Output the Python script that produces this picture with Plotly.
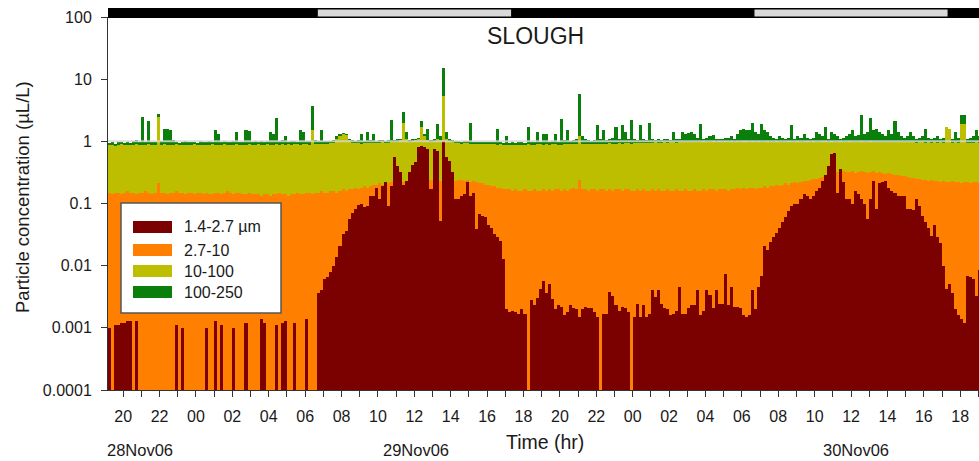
import math
import pandas as pd
import plotly.graph_objects as go

# ---------------- data (10-minute bins, 28 Nov 2006 19:10 -> 30 Nov 2006 19:10) ----------------
bin_start = "2006-11-28 19:15"   # centre of first 10-min bin
n_bins = 288

# top of each stacked band (cumulative concentration, uL/L)
fine_1p4_2p7 = [  # 1.4-2.7 um (0 = no particles detected)
    0.001,0,0.0011,0.0011,0.0012,0.0012,0.0013,0.0013,0,0.0013,0,0,0,0,0,0,
    0,0,0,0,0,0,0.0011,0,0.001,0,0,0,0,0,0,0,
    0.001,0,0,0.0013,0,0.0011,0,0,0,0.001,0,0,0,0.0012,0,0,
    0,0,0.0014,0.0012,0,0,0,0.0011,0,0.0012,0.0013,0,0,0.0012,0,0,
    0,0.0014,0,0,0,0.0037,0.004,0.006,0.0066,0.0078,0.0098,0.014,0.021,0.032,0.036,0.056,
    0.07,0.081,0.095,0.1,0.087,0.09,0.13,0.13,0.18,0.12,0.19,0.22,0.09,0.19,0.57,0.4,
    0.32,0.2,0.23,0.32,0.42,0.46,0.8,0.83,0.82,0.75,0.17,0.75,0.7,0.052,1.0,0.57,
    0.48,0.32,0.12,0.12,0.13,0.14,0.22,0.13,0.15,0.039,0.067,0.064,0.06,0.045,0.04,0.032,
    0.029,0.025,0.013,0.002,0.0018,0.0019,0.0018,0.0017,0.002,0.0017,0,0.0028,0.0023,0.003,0.0042,0.0057,
    0.0037,0.005,0.0029,0.002,0.0023,0.0022,0.0016,0.0018,0.0023,0.0021,0.002,0.0015,0.002,0.0022,0.0021,0.0021,
    0.0018,0.0015,0,0.0017,0.0017,0.0038,0.0033,0.0023,0.0019,0.0022,0.0021,0.0018,0,0.0015,0.0024,0.0015,
    0.0023,0.0015,0.0017,0.004,0.0031,0.0041,0.0024,0.0021,0.002,0.0016,0.0017,0.0019,0.0045,0.0017,0.0017,0.0021,
    0.0023,0.0023,0.0041,0.0016,0.0019,0.004,0.0034,0.0021,0.0041,0.0024,0.0024,0.0073,0.0023,0.0045,0.0022,0.0022,
    0.0021,0.0016,0.0015,0.0016,0.004,0.002,0.0045,0.0068,0.021,0.018,0.024,0.029,0.034,0.04,0.05,0.06,
    0.077,0.09,0.098,0.1,0.12,0.14,0.13,0.12,0.13,0.16,0.18,0.23,0.29,0.4,0.62,0.65,
    0.15,0.36,0.22,0.12,0.12,0.1,0.16,0.14,0.12,0.1,0.056,0.12,0.23,0.081,0.21,0.22,
    0.23,0.18,0.16,0.15,0.13,0.13,0.13,0.081,0.081,0.08,0.12,0.09,0.064,0.05,0.04,0.03,
    0.045,0.029,0.023,0.0098,0.0042,0.005,0.0037,0.002,0.0016,0.0014,0.0012,0.0068,0.0066,0.006,0.0033,0.0085,
]
cum_2p7_10 = [  # top of 2.7-10 band
    0.15,0.14,0.15,0.15,0.14,0.15,0.16,0.15,0.15,0.14,0.15,0.15,0.16,0.15,0.14,0.15,
    0.21,0.15,0.15,0.14,0.15,0.15,0.16,0.15,0.15,0.14,0.15,0.15,0.14,0.15,0.15,0.14,
    0.15,0.14,0.14,0.15,0.15,0.14,0.15,0.16,0.15,0.14,0.15,0.15,0.14,0.14,0.15,0.14,
    0.14,0.14,0.13,0.14,0.14,0.13,0.14,0.14,0.15,0.14,0.14,0.13,0.14,0.14,0.15,0.14,
    0.14,0.15,0.15,0.14,0.15,0.15,0.16,0.15,0.15,0.16,0.16,0.15,0.16,0.17,0.16,0.17,
    0.17,0.18,0.17,0.18,0.19,0.18,0.19,0.2,0.2,0.21,0.2,0.22,0.21,0.22,0.23,0.22,
    0.23,0.22,0.23,0.24,0.23,0.24,0.24,0.25,0.24,0.25,0.24,0.25,0.24,0.23,0.24,0.25,
    0.24,0.25,0.23,0.24,0.24,0.23,0.24,0.22,0.23,0.22,0.21,0.21,0.2,0.2,0.19,0.19,
    0.18,0.18,0.17,0.17,0.17,0.16,0.17,0.16,0.16,0.17,0.16,0.16,0.17,0.16,0.16,0.17,
    0.16,0.17,0.16,0.17,0.17,0.16,0.17,0.16,0.17,0.18,0.17,0.24,0.17,0.17,0.16,0.17,
    0.17,0.16,0.17,0.17,0.16,0.17,0.16,0.17,0.17,0.16,0.17,0.17,0.16,0.16,0.17,0.16,
    0.17,0.16,0.16,0.17,0.16,0.17,0.16,0.16,0.17,0.16,0.16,0.17,0.16,0.16,0.17,0.16,
    0.16,0.17,0.16,0.16,0.17,0.16,0.17,0.17,0.16,0.17,0.17,0.17,0.16,0.17,0.17,0.18,
    0.17,0.18,0.17,0.18,0.18,0.17,0.18,0.18,0.19,0.18,0.19,0.19,0.2,0.19,0.2,0.21,
    0.2,0.21,0.22,0.21,0.22,0.23,0.23,0.24,0.25,0.25,0.26,0.27,0.28,0.29,0.3,0.31,
    0.32,0.31,0.33,0.32,0.32,0.33,0.31,0.32,0.33,0.32,0.31,0.32,0.33,0.31,0.32,0.31,
    0.3,0.31,0.3,0.29,0.29,0.28,0.28,0.27,0.26,0.26,0.25,0.25,0.24,0.24,0.23,0.24,
    0.23,0.23,0.22,0.23,0.22,0.22,0.23,0.22,0.22,0.21,0.22,0.22,0.21,0.22,0.22,0.21,
]
cum_10_100 = [  # top of 10-100 band
    0.86,0.88,0.85,0.87,0.89,0.86,0.88,0.87,0.86,0.9,0.87,0.88,0.86,0.89,0.87,0.88,
    2.5,0.87,0.9,0.88,0.86,0.87,0.89,0.88,0.86,0.87,0.88,0.86,0.89,0.87,0.88,0.86,
    0.88,0.87,0.89,0.86,0.88,0.87,0.9,0.88,0.86,0.87,0.89,0.88,0.87,0.86,0.9,0.88,
    0.87,0.89,0.88,0.86,0.9,0.88,0.87,0.89,0.88,0.9,0.87,0.89,0.88,0.9,0.89,0.88,
    0.9,0.89,0.88,1.5,0.9,0.89,0.91,0.9,0.92,0.93,0.95,1.1,1.2,1.3,1.25,1.05,
    0.95,0.93,0.95,0.92,0.94,0.93,0.95,0.94,0.93,0.95,0.96,0.94,0.95,0.97,0.98,0.96,
    1.05,2.0,1.1,0.98,1.0,1.05,1.1,1.7,1.2,1.05,0.98,1.0,1.1,1.05,5.3,1.1,
    1.0,0.97,0.95,0.93,0.92,0.94,0.93,0.92,0.91,0.9,0.92,0.91,0.9,0.91,0.9,0.89,
    0.88,0.89,0.87,0.88,0.86,0.87,0.88,0.86,0.87,0.88,0.89,0.87,0.88,0.9,0.89,0.88,
    0.9,0.88,0.89,0.9,0.88,0.87,0.89,0.9,0.91,0.89,0.9,1.2,0.9,0.89,0.91,0.9,
    0.92,0.9,0.91,0.92,0.9,0.93,0.92,0.91,0.93,0.92,0.94,0.93,0.92,0.94,0.93,0.95,
    0.94,0.93,0.95,0.94,0.96,0.95,0.94,0.96,0.95,0.97,0.96,0.95,0.97,0.96,0.98,0.97,
    0.98,0.97,0.99,0.98,1.0,0.98,0.99,1.0,0.99,1.0,0.98,1.0,0.99,1.0,0.98,1.0,
    0.99,1.0,1.0,0.99,1.0,0.98,1.0,0.99,0.98,1.0,0.99,0.98,1.0,0.99,0.98,0.99,
    1.0,0.99,0.98,1.0,0.99,0.98,1.0,0.99,1.0,0.98,0.99,1.0,1.0,0.99,1.0,0.98,
    0.99,1.0,0.98,0.99,1.0,0.98,0.97,0.99,1.0,0.98,0.99,1.0,0.98,0.99,0.98,0.97,
    0.98,0.97,0.99,0.97,0.98,0.96,0.97,0.98,0.96,0.97,0.95,0.96,0.97,0.95,0.96,0.95,
    0.96,0.95,0.96,0.95,1.7,1.6,0.95,0.96,0.94,1.9,1.9,0.95,0.94,0.95,0.96,0.95,
]
cum_100_250 = [  # top of 100-250 band (total)
    0.95,0.97,0.92,0.96,0.98,0.94,0.97,0.95,1.0,1.07,0.96,2.5,0.97,2.1,0.98,0.96,
    2.8,1.0,1.6,1.6,1.5,1.05,0.97,0.95,0.98,1.0,0.96,0.97,0.99,0.95,1.0,0.97,
    0.98,1.0,0.96,1.5,1.3,0.97,1.0,0.98,0.96,1.0,1.4,0.99,0.97,1.5,1.45,0.98,
    1.0,0.97,1.02,0.98,1.0,1.4,1.3,2.4,1.0,1.05,1.2,0.98,1.02,1.0,0.99,1.5,
    1.4,1.0,1.02,3.7,1.05,1.0,1.5,1.02,1.0,1.03,1.05,1.2,1.3,1.35,1.3,1.1,
    1.05,1.02,1.05,1.3,1.03,1.4,1.05,1.3,1.02,1.05,1.04,1.02,1.05,2.2,1.05,1.08,
    1.1,3.0,1.4,1.05,1.08,1.1,1.15,2.1,1.3,1.6,1.05,1.1,1.9,1.2,15,1.4,
    1.1,1.05,1.0,1.02,0.98,1.0,1.0,2.0,0.98,0.97,0.99,0.96,0.98,0.97,0.96,0.98,
    1.6,0.97,0.95,1.2,0.95,0.96,0.95,0.97,0.96,0.95,1.7,0.96,0.97,1.4,0.98,1.3,
    1.3,0.97,1.0,1.3,0.99,2.3,1.05,1.5,1.02,1.05,1.1,5.7,1.2,1.1,1.05,1.02,
    1.05,1.8,1.1,1.5,1.05,1.1,1.15,1.7,1.1,1.8,1.4,1.1,2.2,1.1,1.05,1.8,
    1.1,1.05,2.0,1.1,1.05,1.1,1.05,1.08,1.1,1.05,1.4,1.1,1.08,1.4,1.3,1.35,
    1.4,1.3,1.15,1.9,1.1,1.15,1.2,1.25,1.1,1.08,1.1,1.12,1.15,1.2,1.1,1.3,
    1.5,1.6,1.55,1.5,2.0,1.4,1.3,1.9,1.5,1.4,1.2,1.15,1.1,1.2,1.12,1.1,
    1.15,1.8,1.1,1.2,1.15,1.3,1.12,1.1,1.15,1.4,1.3,1.2,1.7,1.1,1.4,1.3,
    1.2,1.1,1.15,1.2,1.3,1.5,1.2,1.25,2.7,1.3,1.4,2.4,1.5,1.6,1.4,1.3,
    1.2,1.5,1.3,2.1,1.4,1.2,1.15,1.2,1.4,1.2,1.1,1.15,1.2,1.6,1.15,1.1,
    1.15,1.2,1.1,1.15,1.7,1.6,1.1,1.4,1.15,2.7,2.7,1.1,1.15,1.2,1.5,1.2,
]
series_names = ["100-250", "10-100", "2.7-10", "1.4-2.7 \u00b5m"]
series_colors = ["#0b7f0b", "#bebe00", "#ff8000", "#7b0000"]

# day/night bar (daylight periods)
day_start = ["2006-11-29 06:40", "2006-11-30 06:40"]
day_end = ["2006-11-29 17:21", "2006-11-30 17:20"]

# axis ticks
y_tickvals = [0.0001, 0.001, 0.01, 0.1, 1, 10, 100]
y_ticktext = ["0.0001", "0.001", "0.01", "0.1", "1", "10", "100"]
x_range = ["2006-11-28 19:10", "2006-11-30 19:02"]
date_labels = ["28Nov06", "29Nov06", "30Nov06"]
date_label_x = ["2006-11-28 20:55", "2006-11-29 12:05", "2006-11-30 12:15"]

for s in (fine_1p4_2p7, cum_2p7_10, cum_10_100, cum_100_250):
    assert len(s) == n_bins, len(s)

# ---------------- figure ----------------
W, H = 979, 461
ML, MR, MT, MB = 108, 0, 17, 71
PW, PH = W - ML - MR, H - MT - MB
FONT = "Liberation Sans, Arial, sans-serif"
TXT = "#1a1a1a"


def px(x):
    return (x - ML) / PW


def py(y):
    return (H - MB - y) / PH


times = pd.date_range(bin_start, periods=n_bins, freq="10min")

fig = go.Figure()
for name, color, vals in zip(series_names, series_colors,
                             [cum_100_250, cum_10_100, cum_2p7_10, fine_1p4_2p7]):
    fig.add_trace(go.Bar(
        x=times, y=[v if v > 0 else None for v in vals], name=name,
        width=600000, marker=dict(color=color, line=dict(width=0)),
        showlegend=False,
    ))

shapes = []
# gridlines drawn on top of bars
for v in y_tickvals[1:-1]:
    shapes.append(dict(type="line", xref="paper", yref="y", x0=0, x1=1,
                       y0=math.log10(v), y1=math.log10(v), layer="above",
                       line=dict(color="rgba(214,214,214,0.85)", width=2)))
# day / night bar
shapes.append(dict(type="rect", xref="paper", yref="paper", x0=0, x1=1,
                   y0=py(18), y1=py(8), fillcolor="black", line=dict(width=0), layer="above"))
for a, b in zip(day_start, day_end):
    shapes.append(dict(type="rect", xref="x", yref="paper", x0=a, x1=b,
                       y0=py(17), y1=py(9), fillcolor="#d9d9d9",
                       line=dict(color="black", width=1), layer="above"))
# legend box
shapes.append(dict(type="rect", xref="paper", yref="paper", x0=px(121), x1=px(281),
                   y0=py(313), y1=py(203), fillcolor="white",
                   line=dict(color="#555", width=1.5), layer="above"))
leg_y = [227, 250, 271, 292]
leg_order = [3, 2, 1, 0]
annotations = []
for yc, k in zip(leg_y, leg_order):
    shapes.append(dict(type="rect", xref="paper", yref="paper", x0=px(133), x1=px(172),
                       y0=py(yc + 6), y1=py(yc - 6), fillcolor=series_colors[k],
                       line=dict(width=0), layer="above"))
    annotations.append(dict(text=series_names[k], xref="paper", yref="paper",
                            x=px(182), y=py(yc), xanchor="left", yanchor="middle",
                            showarrow=False, font=dict(size=16, color=TXT, family=FONT)))

annotations.append(dict(text="SLOUGH", xref="paper", yref="paper", x=px(535), y=py(36),
                        xanchor="center", yanchor="middle", showarrow=False,
                        font=dict(size=23, color=TXT, family=FONT)))
for lab, xv in zip(date_labels, date_label_x):
    annotations.append(dict(text=lab, xref="x", yref="paper", x=xv, y=py(450),
                            xanchor="center", yanchor="middle", showarrow=False,
                            font=dict(size=16.5, color=TXT, family=FONT)))
annotations.append(dict(text="Time (hr)", xref="paper", yref="paper", x=px(545), y=py(442),
                        xanchor="center", yanchor="middle", showarrow=False,
                        font=dict(size=19.5, color=TXT, family=FONT)))
annotations.append(dict(text="Particle concentration (\u00b5L/L)", xref="paper", yref="paper",
                        x=px(22), y=py(197), xanchor="center", yanchor="middle",
                        textangle=-90, showarrow=False,
                        font=dict(size=18.5, color=TXT, family=FONT)))

hours = pd.date_range("2006-11-28 20:00", "2006-11-30 19:00", freq="1h")
x_ticktext = [h.strftime("%H") if h.hour % 2 == 0 else "" for h in hours]

fig.update_layout(
    width=W, height=H, margin=dict(l=ML, r=MR, t=MT, b=MB, pad=0),
    barmode="overlay", bargap=0, showlegend=False,
    plot_bgcolor="white", paper_bgcolor="white",
    font=dict(family=FONT, size=16, color=TXT),
    shapes=shapes, annotations=annotations,
    xaxis=dict(type="date", range=x_range, tickvals=list(hours), ticktext=x_ticktext,
               ticks="outside", ticklen=6, tickcolor="#333", tickwidth=1,
               showline=True, linecolor="#333", linewidth=1, showgrid=False,
               zeroline=False, tickfont=dict(size=16, color=TXT), ticklabelstandoff=6),
    yaxis=dict(type="log", range=[-4, 2], tickvals=y_tickvals, ticktext=y_ticktext,
               ticks="outside", ticklen=6, tickcolor="#333", tickwidth=1,
               showline=True, linecolor="#333", linewidth=1, showgrid=False,
               zeroline=False, tickfont=dict(size=16, color=TXT), ticklabelstandoff=6),
)

fig.write_html("out.html")
